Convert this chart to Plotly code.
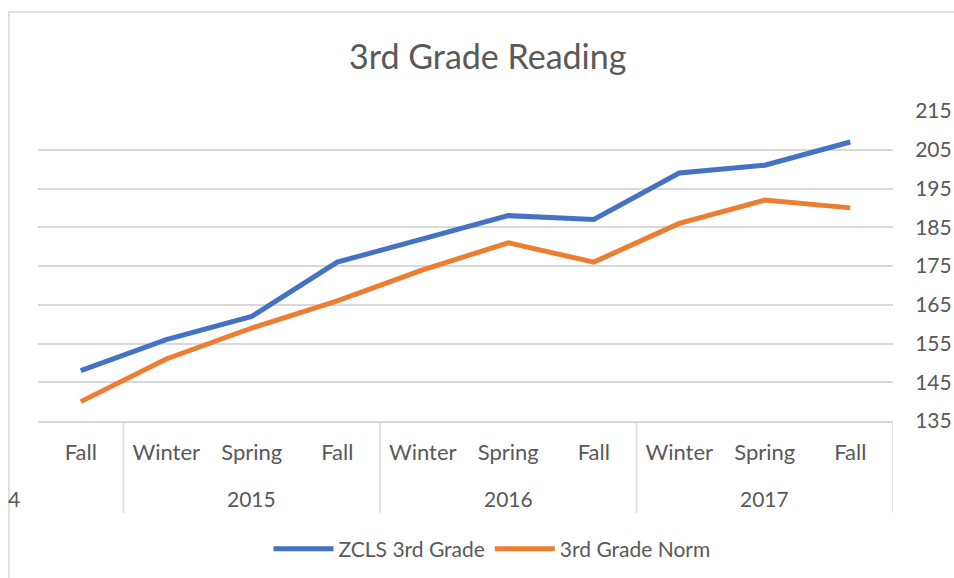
import plotly.graph_objects as go

seasons = ["Fall", "Winter", "Spring", "Fall", "Winter", "Spring", "Fall", "Winter", "Spring", "Fall"]
years = ["2015", "2016", "2017"]
year_centers = [2, 5, 8]
zcls = [148, 156, 162, 176, 182, 188, 187, 199, 201, 207]
norm = [140, 151, 159, 166, 174, 181, 176, 186, 192, 190]
yticks = [135, 145, 155, 165, 175, 185, 195, 205, 215]

FONT = "Lato"
GRAY = "#595959"
x = list(range(len(seasons)))

fig = go.Figure()
fig.add_trace(go.Scatter(x=x, y=zcls, mode="lines", name="ZCLS 3rd Grade",
                         line=dict(color="#4472C4", width=5)))
fig.add_trace(go.Scatter(x=x, y=norm, mode="lines", name="3rd Grade Norm",
                         line=dict(color="#ED7D31", width=5)))

shapes = []
for b in [0.5, 3.5, 6.5, 9.5]:
    shapes.append(dict(type="line", xref="x", yref="paper", x0=b, x1=b, y0=0, y1=-0.296,
                       line=dict(color="#D9D9D9", width=1.5)))
shapes.append(dict(type="rect", xref="paper", yref="paper", x0=-0.034, x1=1.2, y0=-0.7, y1=1.319,
                   line=dict(color="#D9D9D9", width=1.5), fillcolor="rgba(0,0,0,0)"))

annotations = []
for yr, c in zip(years, year_centers):
    annotations.append(dict(x=c, y=-0.249, xref="x", yref="paper", text=yr, showarrow=False,
                            font=dict(family=FONT, size=21, color=GRAY), yanchor="middle"))
annotations.append(dict(x=-0.0275, y=-0.249, xref="paper", yref="paper", text="4", showarrow=False,
                        font=dict(family=FONT, size=21, color=GRAY), xanchor="center", yanchor="middle"))

fig.update_layout(
    width=954, height=578,
    margin=dict(l=38, r=61, t=111, b=157, autoexpand=False),
    paper_bgcolor="white", plot_bgcolor="white",
    title=dict(text="3rd Grade Reading", x=0.526, xref="paper", xanchor="center",
               y=1 - 57/578, yanchor="middle",
               font=dict(family=FONT, size=34, color=GRAY)),
    font=dict(family=FONT, color=GRAY),
    xaxis=dict(range=[-0.5, 9.5], tickvals=x, ticktext=seasons, showgrid=False, zeroline=False,
               showline=True, linecolor="#D9D9D9", linewidth=1.5, automargin=False,
               ticks="outside", ticklen=11, tickcolor="rgba(0,0,0,0)",
               tickfont=dict(family=FONT, size=22, color=GRAY)),
    yaxis=dict(range=[135, 215], tickvals=yticks, side="right", showgrid=True, gridcolor="#D9D9D9",
               gridwidth=1.5, zeroline=False, showline=False, ticks="outside", ticklen=17,
               automargin=False,
               tickcolor="rgba(0,0,0,0)", tickfont=dict(family=FONT, size=21, color=GRAY)),
    legend=dict(orientation="h", x=0.531, xanchor="center", y=-0.413, yanchor="middle",
                font=dict(family=FONT, size=21, color=GRAY), itemwidth=60),
    shapes=shapes, annotations=annotations, showlegend=True,
)

fig.write_html("out.html", config={"displayModeBar": False},
               post_script="document.body.style.margin='0';document.body.style.overflow='hidden';")
